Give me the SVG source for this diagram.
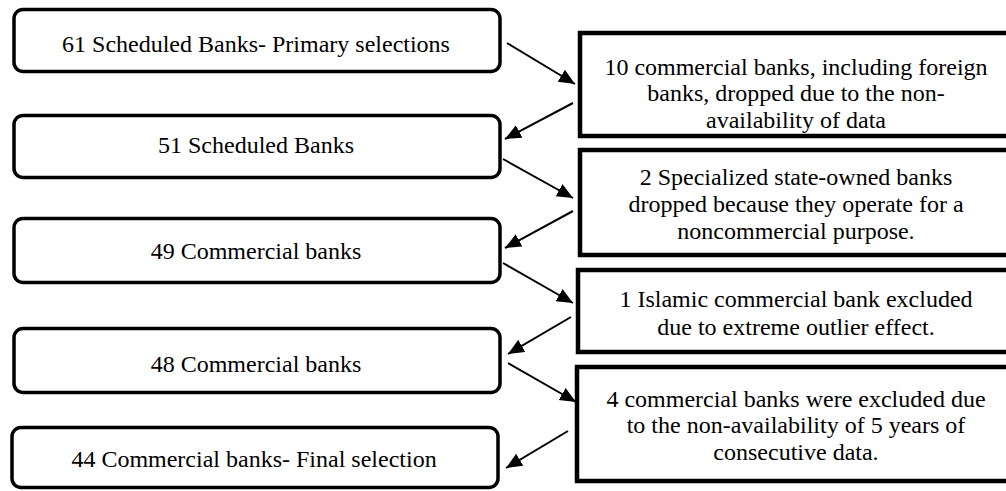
<svg xmlns="http://www.w3.org/2000/svg" width="1006" height="491" viewBox="0 0 1006 491">
<style>
  .lb { fill: #fff; stroke: #000; stroke-width: 3.5; }
  .rb { fill: #fff; stroke: #000; stroke-width: 4.5; }
  .t { font-family: 'Liberation Serif', 'DejaVu Serif', serif; font-size: 24px; fill: #000; text-anchor: middle; }
  .conn line { stroke: #000; stroke-width: 2; marker-end: url(#ah); }
</style>
<defs>
  <marker id="ah" markerUnits="userSpaceOnUse" markerWidth="18" markerHeight="16" refX="16" refY="7" orient="auto">
    <path d="M0,0 L16,7 L0,14 Z" fill="#000"/>
  </marker>
</defs>
<rect width="1006" height="491" fill="#fff"/>
<g id="n1"><rect class="lb" x="14" y="9.5" width="486" height="62" rx="9"/><text class="t" x="256" y="52">61 Scheduled Banks- Primary selections</text></g>
<g id="n2"><rect class="lb" x="14" y="115.5" width="486" height="62" rx="9"/><text class="t" x="256" y="153">51 Scheduled Banks</text></g>
<g id="n3"><rect class="lb" x="14" y="218.5" width="486" height="64" rx="9"/><text class="t" x="256" y="259">49 Commercial banks</text></g>
<g id="n4"><rect class="lb" x="14" y="328.5" width="486" height="64" rx="9"/><text class="t" x="256" y="372">48 Commercial banks</text></g>
<g id="n5"><rect class="lb" x="12" y="427.5" width="486" height="60" rx="9"/><text class="t" x="254" y="467">44 Commercial banks- Final selection</text></g>
<g id="r1"><rect class="rb" x="580" y="33" width="440" height="103"/><text class="t" x="796" y="75">10 commercial banks, including foreign</text><text class="t" x="796" y="101">banks, dropped due to the non-</text><text class="t" x="796" y="128">availability of data</text></g>
<g id="r2"><rect class="rb" x="580" y="150" width="440" height="105"/><text class="t" x="796" y="185">2 Specialized state-owned banks</text><text class="t" x="796" y="212">dropped because they operate for a</text><text class="t" x="796" y="239">noncommercial purpose.</text></g>
<g id="r3"><rect class="rb" x="578" y="270" width="440" height="82"/><text class="t" x="796" y="307">1 Islamic commercial bank excluded</text><text class="t" x="796" y="335">due to extreme outlier effect.</text></g>
<g id="r4"><rect class="rb" x="577" y="367" width="440" height="114"/><text class="t" x="796" y="407">4 commercial banks were excluded due</text><text class="t" x="796" y="433">to the non-availability of 5 years of</text><text class="t" x="796" y="460">consecutive data.</text></g>
<g class="conn" id="connectors">
  <line x1="507" y1="43" x2="575" y2="84"/>
  <line x1="573" y1="103" x2="505" y2="139"/>
  <line x1="503" y1="159" x2="573" y2="198"/>
  <line x1="573" y1="211" x2="505" y2="248"/>
  <line x1="503" y1="263" x2="573" y2="303"/>
  <line x1="571" y1="317" x2="508" y2="354"/>
  <line x1="508" y1="363" x2="576" y2="402"/>
  <line x1="568" y1="431" x2="506" y2="468"/>
</g>
</svg>
